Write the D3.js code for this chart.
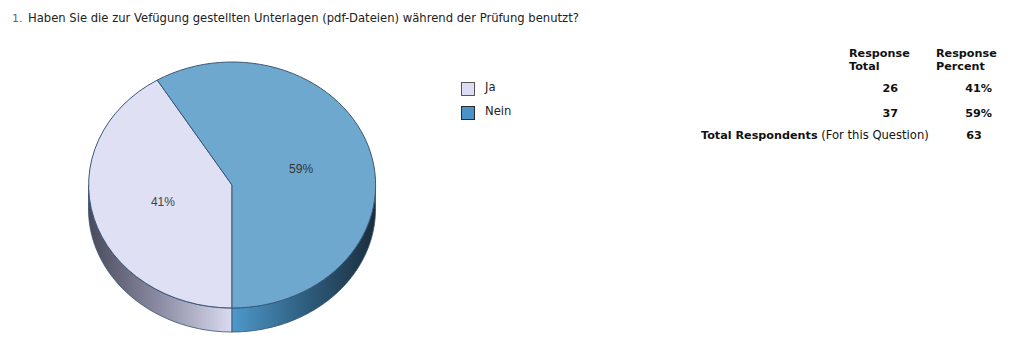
<!DOCTYPE html>
<html>
<head>
<meta charset="utf-8">
<script src="https://cdn.jsdelivr.net/npm/d3@7"></script>
<style>
  html, body { margin: 0; padding: 0; background: #fff; }
  svg { display: block; }
</style>
</head>
<body>
<svg id="chart" width="1024" height="348"></svg>
<script>
// Survey question 1: answers and counts
const questionNumber = "1.";
const questionText = "Haben Sie die zur Vefügung gestellten Unterlagen (pdf-Dateien) während der Prüfung benutzt?";
const categories = ["Ja", "Nein"];
const responseTotals = [26, 37];
const responsePercents = [41, 59];
const totalRespondents = 63;
const headerTotal = ["Response", "Total"];
const headerPercent = ["Response", "Percent"];

const topColors = ["#e0e0f4", "#6ea8cf"];
const legendColors = ["#dcdcf2", "#4b93c6"];
const sideStops = [
  ["#4a4a5c", "#8c8ca4", "#dadaf0"],
  ["#4e98cb", "#2f5f80", "#1a2d3c"]
];

const svg = d3.select("#chart");
const font = "Verdana, 'DejaVu Sans', sans-serif";

// Title
svg.append("text").attr("x", 12).attr("y", 21.5)
  .attr("font-family", font).attr("font-size", 11).attr("fill", "#666")
  .text(questionNumber);
svg.append("text").attr("x", 28).attr("y", 21.5)
  .attr("font-family", font).attr("font-size", 11.6).attr("fill", "#222")
  .text(questionText);

// Pie geometry (elliptical projection of a tilted disc)
const cx = 232, cy = 185, rx = 143.5, ry = 123, depth = 24;

const pie = d3.pie().sort(null).value(d => d)
  .startAngle(Math.PI).endAngle(3 * Math.PI);
const arcs = pie(responseTotals);

const defs = svg.append("defs");
sideStops.forEach((stops, i) => {
  const g = defs.append("linearGradient")
    .attr("id", "side" + i)
    .attr("gradientUnits", "userSpaceOnUse")
    .attr("x1", i === 0 ? cx - rx : cx).attr("x2", i === 0 ? cx : cx + rx)
    .attr("y1", 0).attr("y2", 0);
  stops.forEach((c, k) => g.append("stop")
    .attr("offset", k / (stops.length - 1)).attr("stop-color", c));
});

const pieG = svg.append("g");

// point on ellipse for a d3 angle (0 = 12 o'clock, clockwise)
const pt = (a, dy = 0) => [cx + rx * Math.sin(a), cy - ry * Math.cos(a) + dy];

// Visible side walls: the part of each slice lying on the front (lower) half
arcs.forEach((d, i) => {
  const a0 = d.startAngle, a1 = d.endAngle;
  const frontStart = Math.PI / 2, frontEnd = 3 * Math.PI / 2;
  const segs = [];
  for (const shift of [0, 2 * Math.PI]) {
    const s = Math.max(a0, frontStart + shift), e = Math.min(a1, frontEnd + shift);
    if (e > s) segs.push([s, e]);
  }
  segs.forEach(([s, e]) => {
    const steps = d3.range(0, 1.0001, 1 / 80).map(t => s + (e - s) * t);
    const top = steps.map(a => pt(a));
    const bottom = steps.slice().reverse().map(a => pt(a, depth));
    pieG.append("path")
      .attr("d", d3.line()(top.concat(bottom)) + "Z")
      .attr("fill", `url(#side${i})`)
      .attr("stroke", "#34506e").attr("stroke-width", 0.8)
      .attr("stroke-linejoin", "round");
  });
});

// Top faces
const arcGen = d3.arc().innerRadius(0).outerRadius(1);
pieG.selectAll("path.top").data(arcs).join("path")
  .attr("class", "top")
  .attr("transform", `translate(${cx},${cy}) scale(${rx},${ry})`)
  .attr("d", arcGen)
  .attr("fill", (d, i) => topColors[i])
  .attr("stroke", "#3b5878").attr("stroke-width", 1)
  .attr("vector-effect", "non-scaling-stroke")
  .attr("stroke-linejoin", "round");

// Slice labels at half radius
const labelArc = d3.arc().innerRadius(0).outerRadius(1);
pieG.selectAll("text.lbl").data(arcs).join("text")
  .attr("class", "lbl")
  .attr("x", d => { const [x] = labelArc.centroid(d); return cx + x * rx; })
  .attr("y", d => { const [, y] = labelArc.centroid(d); return cy + y * ry; })
  .attr("dy", "0.35em")
  .attr("text-anchor", "middle")
  .attr("font-family", "Arial, 'Liberation Sans', sans-serif")
  .attr("font-size", 12)
  .attr("fill", (d, i) => i === 0 ? "#444" : "#333")
  .text((d, i) => responsePercents[i] + "%");

// Legend
const legend = svg.append("g");
categories.forEach((c, i) => {
  const y = 82 + i * 24;
  legend.append("rect").attr("x", 461.5).attr("y", y + 0.5)
    .attr("width", 13).attr("height", 13)
    .attr("fill", legendColors[i]).attr("stroke", i === 0 ? "#555" : "#2a2a2a");
  legend.append("text").attr("x", 485).attr("y", y + 9)
    .attr("font-family", font).attr("font-size", 11.6).attr("fill", "#222")
    .text(c);
});

// Response table
const table = svg.append("g").attr("font-family", font).attr("font-size", 11.2).attr("fill", "#111");
headerTotal.forEach((t, k) => table.append("text").attr("x", 849).attr("y", 56.5 + k * 13.5)
  .attr("font-weight", "bold").text(t));
headerPercent.forEach((t, k) => table.append("text").attr("x", 936).attr("y", 56.5 + k * 13.5)
  .attr("font-weight", "bold").text(t));
responseTotals.forEach((v, i) => {
  const y = 92 + i * 25;
  table.append("text").attr("x", 898).attr("y", y).attr("text-anchor", "end")
    .attr("font-weight", "bold").text(v);
  table.append("text").attr("x", 992).attr("y", y).attr("text-anchor", "end")
    .attr("font-weight", "bold").text(responsePercents[i] + "%");
});
const totRow = table.append("text").attr("x", 701).attr("y", 139);
totRow.append("tspan").attr("font-weight", "bold").text("Total Respondents");
totRow.append("tspan").attr("font-size", 11.6).text(" (For this Question)");
table.append("text").attr("x", 974).attr("y", 139).attr("text-anchor", "middle")
  .attr("font-weight", "bold").text(totalRespondents);
</script>
</body>
</html>
